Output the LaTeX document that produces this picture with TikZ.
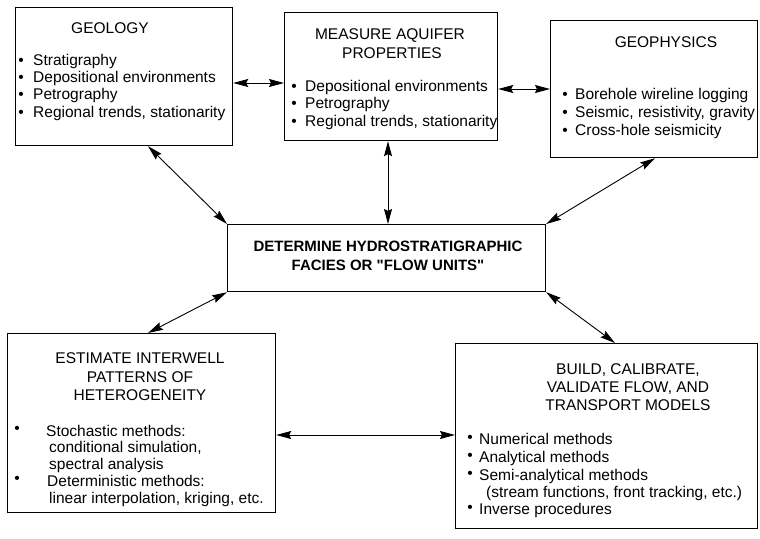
\documentclass[tikz,border=0pt]{standalone}
\usepackage{fontspec}
\setmainfont{Liberation Sans}
\usetikzlibrary{arrows.meta,calc}
\begin{document}
\begin{tikzpicture}[x=1pt,y=-1pt,
 box/.style={draw, line width=1.2pt, inner sep=0pt, anchor=north west},
 txt/.style={inner sep=0pt, anchor=mid west, font=\fontsize{15.5}{18}\selectfont},
 ttl/.style={inner sep=0pt, anchor=mid, font=\fontsize{15.5}{18}\selectfont},
 ctl/.style={inner sep=0pt, anchor=mid, font=\fontsize{15}{18}\selectfont\bfseries},
 bul/.style={inner sep=0pt, anchor=mid, font=\fontsize{15.5}{18}\selectfont},
 link/.style={line width=0.9pt, {Stealth[length=15pt,width=8pt,inset=2pt]}-{Stealth[length=15pt,width=8pt,inset=2pt]}}]
\useasboundingbox (0,0) rectangle (760,538);

% GEOLOGY
\node[box, minimum width=217pt, minimum height=138pt] (geo) at (15,7) {};
\node[ttl] (geot) at (110,31) {GEOLOGY};
\node[bul] (gb1) at (21,63) {•}; \node[txt] (gt1) at (33,63) {Stratigraphy};
\node[bul] (gb2) at (21,80) {•}; \node[txt] (gt2) at (33,80) {Depositional environments};
\node[bul] (gb3) at (21,97) {•}; \node[txt] (gt3) at (33,97) {Petrography};
\node[bul] (gb4) at (21,115) {•}; \node[txt] (gt4) at (33,115) {Regional trends, stationarity};

% MEASURE
\node[box, minimum width=213pt, minimum height=128pt] (mea) at (284,12) {};
\node[ttl] (meat1) at (390,37) {MEASURE AQUIFER};
\node[ttl] (meat2) at (392,56) {PROPERTIES};
\node[bul] (mb1) at (294,89) {•}; \node[txt] (mt1) at (305,89) {Depositional environments};
\node[bul] (mb2) at (294,106) {•}; \node[txt] (mt2) at (305,106) {Petrography};
\node[bul] (mb3) at (294,124) {•}; \node[txt] (mt3) at (305,124) {Regional trends, stationarity};

% GEOPHYSICS
\node[box, minimum width=207pt, minimum height=137pt] (gph) at (550,20) {};
\node[ttl] (gpht) at (666,45) {GEOPHYSICS};
\node[bul] (pb1) at (565,97) {•}; \node[txt] (pt1) at (575,97) {Borehole wireline logging};
\node[bul] (pb2) at (565,115) {•}; \node[txt] (pt2) at (575,115) {Seismic, resistivity, gravity};
\node[bul] (pb3) at (565,133) {•}; \node[txt] (pt3) at (575,133) {Cross-hole seismicity};

% CENTER
\node[box, minimum width=318pt, minimum height=67pt] (cen) at (227,224) {};
\node[ctl] (cent1) at (388,249) {DETERMINE HYDROSTRATIGRAPHIC};
\node[ctl] (cent2) at (388,268) {FACIES OR \textquotedbl FLOW UNITS\textquotedbl};

% ESTIMATE
\node[box, minimum width=268pt, minimum height=179pt] (est) at (7,333) {};
\node[ttl] (estt1) at (140,361) {ESTIMATE INTERWELL};
\node[ttl] (estt2) at (140,380) {PATTERNS OF};
\node[ttl] (estt3) at (140,398) {HETEROGENEITY};
\node[bul] (eb1) at (17,431) {•}; \node[txt] (et1) at (46,434) {Stochastic methods:};
\node[txt] (et2) at (49,450) {conditional simulation,};
\node[txt] (et3) at (49,467) {spectral analysis};
\node[bul] (eb2) at (17,481) {•}; \node[txt] (et4) at (47,484) {Deterministic methods:};
\node[txt] (et5) at (49,501) {linear interpolation, kriging, etc.};

% BUILD
\node[box, minimum width=302pt, minimum height=185pt] (bld) at (455,343) {};
\node[ttl] (bldt1) at (628,372) {BUILD, CALIBRATE,};
\node[ttl] (bldt2) at (628,390) {VALIDATE FLOW, AND};
\node[ttl] (bldt3) at (628,408) {TRANSPORT MODELS};
\node[bul] (bb1) at (470,440) {•}; \node[txt] (bt1) at (479,442) {Numerical methods};
\node[bul] (bb2) at (470,458) {•}; \node[txt] (bt2) at (479,460) {Analytical methods};
\node[bul] (bb3) at (470,476) {•}; \node[txt] (bt3) at (479,478) {Semi-analytical methods};
\node[txt] (bt4) at (486,495) {(stream functions, front tracking, etc.)};
\node[bul] (bb4) at (470,510) {•}; \node[txt] (bt5) at (479,512) {Inverse procedures};

% CONNECTORS
\draw[link] (geo.east |- 0,83) -- (mea.west |- 0,83);
\draw[link] (mea.east |- 0,89) -- (gph.west |- 0,89);
\draw[link] (geo.south -| 148,0) -- (cen.north west);
\draw[link] (mea.south -| 388,0) -- (cen.north -| 388,0);
\draw[link] (gph.south -| 655,0) -- (cen.north east);
\draw[link] (cen.south west) -- (est.north -| 148,0);
\draw[link] (cen.south east) -- (bld.north -| 615,0);
\draw[link] (est.east |- 0,435) -- (bld.west |- 0,435);
\end{tikzpicture}
\end{document}
